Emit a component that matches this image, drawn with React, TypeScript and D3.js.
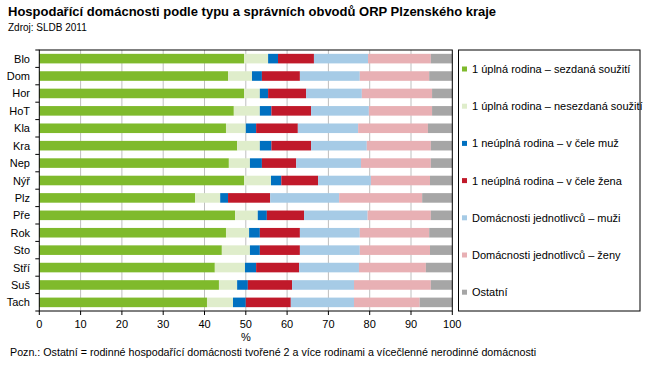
import React, { useRef, useEffect } from "react";
import * as d3 from "d3";

const categories = ["Blo", "Dom", "Hor", "HoT", "Kla", "Kra", "Nep", "Nýř", "Plz", "Pře", "Rok", "Sto", "Stří", "Suš", "Tach"];

const seriesNames = [
  "1 úplná rodina – sezdaná soužití",
  "1 úplná rodina – nesezdaná soužití",
  "1 neúplná rodina – v čele muž",
  "1 neúplná rodina – v čele žena",
  "Domácnosti jednotlivců – muži",
  "Domácnosti jednotlivců – ženy",
  "Ostatní",
];

const colors = ["#7fba2c", "#dfedcb", "#0070c0", "#c0192a", "#a6cbe6", "#e8b0b4", "#a6a6a6"];

// one array per series, in category order
const sezdana = [49.6, 45.7, 49.6, 47.1, 45.2, 47.9, 45.9, 49.6, 37.7, 47.4, 45.2, 44.2, 42.5, 43.5, 40.6];
const nesezdana = [5.8, 5.8, 3.8, 6.3, 4.8, 5.5, 5.1, 6.5, 6.1, 5.5, 5.6, 6.8, 7.3, 4.4, 6.3];
const neuplnaMuz = [2.4, 2.4, 2.0, 2.8, 2.5, 2.8, 2.9, 2.5, 1.9, 2.2, 2.6, 2.4, 2.7, 2.6, 3.1];
const neuplnaZena = [8.7, 9.2, 9.2, 9.6, 10.1, 9.6, 8.3, 8.9, 10.2, 9.0, 9.7, 9.7, 10.4, 10.7, 10.9];
const jednotlivciMuzi = [13.1, 14.5, 13.5, 14.0, 14.6, 13.5, 15.7, 12.8, 16.7, 15.4, 14.5, 14.5, 14.5, 15.0, 15.3];
const jednotlivciZeny = [15.2, 16.8, 17.0, 15.3, 16.9, 15.5, 16.9, 14.3, 20.1, 15.3, 16.8, 17.0, 16.2, 18.6, 15.9];
const ostatni = [5.2, 5.6, 4.9, 4.9, 5.9, 5.2, 5.2, 5.4, 7.3, 5.2, 5.6, 5.4, 6.4, 5.2, 7.9];

const xTicks = [0, 10, 20, 30, 40, 50, 60, 70, 80, 90, 100];

const W = 665;
const H = 368;
const FONT = "'Liberation Sans', Arial, sans-serif";

const App = () => {
  const svgRef = useRef<SVGSVGElement>(null);

  useEffect(() => {
    const svg = d3.select(svgRef.current);
    svg.selectAll("*").remove();

    const left = 39.3;
    const right = 452.3;
    const top = 50;
    const bottom = 311;

    const series = [sezdana, nesezdana, neuplnaMuz, neuplnaZena, jednotlivciMuzi, jednotlivciZeny, ostatni];
    const table = categories.map((c, i) => {
      const row: any = { cat: c };
      seriesNames.forEach((s, j) => (row[s] = series[j][i]));
      return row;
    });

    const stack = d3.stack().keys(seriesNames);
    const stacked = stack(table);

    const x = d3.scaleLinear().domain([0, 100]).range([left, right]);
    const y = d3.scaleBand().domain(categories).range([top, bottom]).paddingInner(0.45).paddingOuter(0.22);

    svg.append("rect").attr("width", W).attr("height", H).attr("fill", "#fff");

    // title
    svg.append("text").attr("x", 8).attr("y", 16).attr("font-family", FONT).attr("font-size", 13)
      .attr("font-weight", "bold").attr("fill", "#000")
      .text("Hospodařící domácnosti podle typu a správních obvodů ORP Plzenského kraje");
    svg.append("text").attr("x", 8).attr("y", 31).attr("font-family", FONT).attr("font-size", 10)
      .attr("fill", "#000").text("Zdroj: SLDB 2011");

    // gridlines
    svg.append("g").selectAll("line").data(xTicks.slice(1, -1)).enter().append("line")
      .attr("x1", (d) => x(d)).attr("x2", (d) => x(d)).attr("y1", top).attr("y2", bottom)
      .attr("stroke", "#bfbfbf").attr("stroke-width", 1);

    // bars
    svg.append("g").selectAll("g").data(stacked).enter().append("g")
      .attr("fill", (_d, i) => colors[i])
      .selectAll("rect").data((d) => d).enter().append("rect")
      .attr("x", (d) => x(d[0]))
      .attr("width", (d) => x(d[1]) - x(d[0]))
      .attr("y", (d: any) => y(d.data.cat)!)
      .attr("height", y.bandwidth());

    // plot frame
    svg.append("rect").attr("x", left).attr("y", top).attr("width", right - left).attr("height", bottom - top)
      .attr("fill", "none").attr("stroke", "#000").attr("stroke-width", 1);

    // y ticks between categories
    const step = (bottom - top) / categories.length;
    svg.append("g").selectAll("line").data(d3.range(categories.length + 1)).enter().append("line")
      .attr("x1", left - 4).attr("x2", left).attr("y1", (d) => top + d * step).attr("y2", (d) => top + d * step)
      .attr("stroke", "#000");

    svg.append("g").selectAll("text").data(categories).enter().append("text")
      .attr("x", 30).attr("y", (d) => y(d)! + y.bandwidth() / 2 + 4)
      .attr("text-anchor", "end").attr("font-family", FONT).attr("font-size", 11).attr("fill", "#000")
      .text((d) => d);

    // x axis
    svg.append("g").selectAll("line").data(xTicks).enter().append("line")
      .attr("x1", (d) => x(d)).attr("x2", (d) => x(d)).attr("y1", bottom).attr("y2", bottom + 4)
      .attr("stroke", "#000");
    svg.append("g").selectAll("text").data(xTicks).enter().append("text")
      .attr("x", (d) => x(d)).attr("y", bottom + 17).attr("text-anchor", "middle")
      .attr("font-family", FONT).attr("font-size", 11).attr("fill", "#000").text((d) => d);
    svg.append("text").attr("x", (left + right) / 2).attr("y", bottom + 30).attr("text-anchor", "middle")
      .attr("font-family", FONT).attr("font-size", 11).attr("fill", "#000").text("%");

    // legend
    svg.append("rect").attr("x", 458.5).attr("y", 50).attr("width", 181.5).attr("height", 261)
      .attr("fill", "none").attr("stroke", "#000");
    const lg = svg.append("g").selectAll("g").data(seriesNames).enter().append("g")
      .attr("transform", (_d, i) => `translate(462, ${69.5 + i * 37.2})`);
    lg.append("rect").attr("x", 0).attr("y", -3).attr("width", 5).attr("height", 5).attr("fill", (_d, i) => colors[i]);
    lg.append("text").attr("x", 10).attr("y", 3.5).attr("font-family", FONT).attr("font-size", 11)
      .attr("fill", "#000").text((d) => d);

    // note
    svg.append("text").attr("x", 10).attr("y", 356).attr("font-family", FONT).attr("font-size", 10.7)
      .attr("fill", "#000")
      .text("Pozn.: Ostatní = rodinné hospodařící domácnosti tvořené 2 a více rodinami a vícečlenné nerodinné domácnosti");
  }, []);

  return (
    <svg ref={svgRef} width={W} height={H} style={{ position: "absolute", left: 0, top: 0 }}></svg>
  );
};

export default App;
